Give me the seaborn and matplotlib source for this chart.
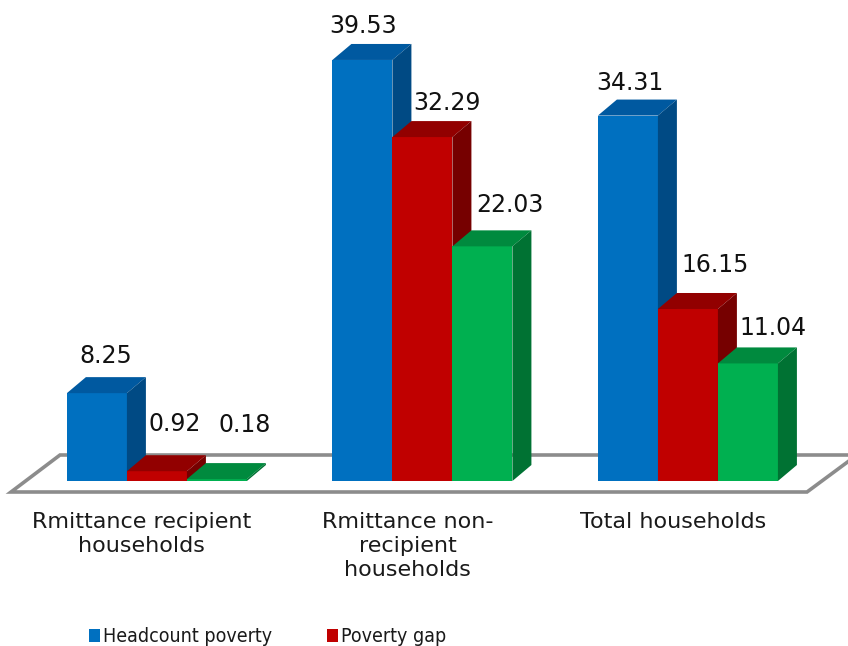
import numpy as np
import pandas as pd
import matplotlib
matplotlib.use("Agg")
import matplotlib.pyplot as plt
import seaborn as sns
from matplotlib.patches import Polygon, Rectangle

# ---- data ----
categories = ["Rmittance recipient\nhouseholds",
              "Rmittance non-\nrecipient\nhouseholds",
              "Total households"]
series = ["Headcount poverty", "Poverty gap", "Severity of poverty"]
headcount = [8.25, 39.53, 34.31]
poverty_gap = [0.92, 32.29, 16.15]
severity = [0.18, 22.03, 11.04]
legend_labels = ["Headcount poverty", "Poverty gap"]

# ---- style ----
front = ["#0070C0", "#C00000", "#00B050"]
top_c = ["#0059A0", "#920000", "#008A3E"]
side_c = ["#004A84", "#760000", "#007233"]
# label nudges in pixels (dx, dy) relative to bar top centre, per series/category
nudges = [[(9, -37), (1, -33.5), (2, -33)],
          [(18, -47), (24.5, -34), (27, -44)],
          [(28, -54), (27.5, -41), (25, -35)]]

sns.set_theme(style="white")
plt.rcParams["font.family"] = ["DejaVu Sans"]

W, H = 848, 646
fig = plt.figure(figsize=(W / 100, H / 100), dpi=100)
ax = fig.add_axes([0, 0, 1, 1])
X0, X1 = -0.591, 2.603
Y0, Y1 = -15.49, 45.16
pxx = (X1 - X0) / W
pxy = (Y1 - Y0) / H


def P(px, py):
    return (X0 + px * pxx, Y1 - py * pxy)


rows = []
for s, vals in zip(series, [headcount, poverty_gap, severity]):
    for c, v in zip(categories, vals):
        rows.append({"category": c, "series": s, "value": v})
df = pd.DataFrame(rows)

sns.barplot(data=df, x="category", y="value", hue="series",
            order=categories, hue_order=series, palette=front,
            saturation=1, width=0.678, gap=0, errorbar=None,
            legend=False, linewidth=0, ax=ax)

# floor
floor = Polygon([P(11, 492), P(807, 492), P(857, 455), P(60, 455)],
                closed=True, fc="white", ec="#8C8C8C", lw=2.6, zorder=1)
ax.add_patch(floor)

dx = 19 * pxx
dy = 16 * pxy
for i, cont in enumerate(ax.containers):
    z = 3 + 2 * i
    for j, bar in enumerate(cont.patches):
        x, w, h = bar.get_x(), bar.get_width(), bar.get_height()
        bar.set_zorder(z)
        ax.add_patch(Polygon([(x, h), (x + w, h), (x + w + dx, h + dy), (x + dx, h + dy)],
                             closed=True, fc=top_c[i], ec="none", zorder=z))
        ax.add_patch(Polygon([(x + w, 0), (x + w, h), (x + w + dx, h + dy), (x + w + dx, dy)],
                             closed=True, fc=side_c[i], ec="none", zorder=z))
        nx, ny = nudges[i][j]
        ax.text(x + w / 2 + nx * pxx, h - ny * pxy, f"{h:.2f}",
                ha="center", va="center", fontsize=17, color="#111111", zorder=20)

# category labels
for k, c in enumerate(categories):
    ax.text(k - 15 * pxx, P(0, 512)[1], c, ha="center", va="top",
            fontsize=16, color="#1a1a1a", linespacing=1.25, zorder=20)

# legend (manual, bottom, clipped by figure edge)
leg_pos = [89, 327]
for k, lab in enumerate(legend_labels):
    lx = leg_pos[k]
    x0, y0 = P(lx, 642)
    ax.add_patch(Rectangle((x0, y0), 11 * pxx, 13 * pxy, fc=front[k], ec="none", zorder=20))
    ax.text(P(lx + 14, 0)[0], y0, lab, ha="left", va="baseline",
            fontsize=14, fontstretch="condensed", color="#1a1a1a", zorder=20)

ax.set_xlim(X0, X1)
ax.set_ylim(Y0, Y1)
ax.axis("off")
fig.savefig("out.png", dpi=100)
